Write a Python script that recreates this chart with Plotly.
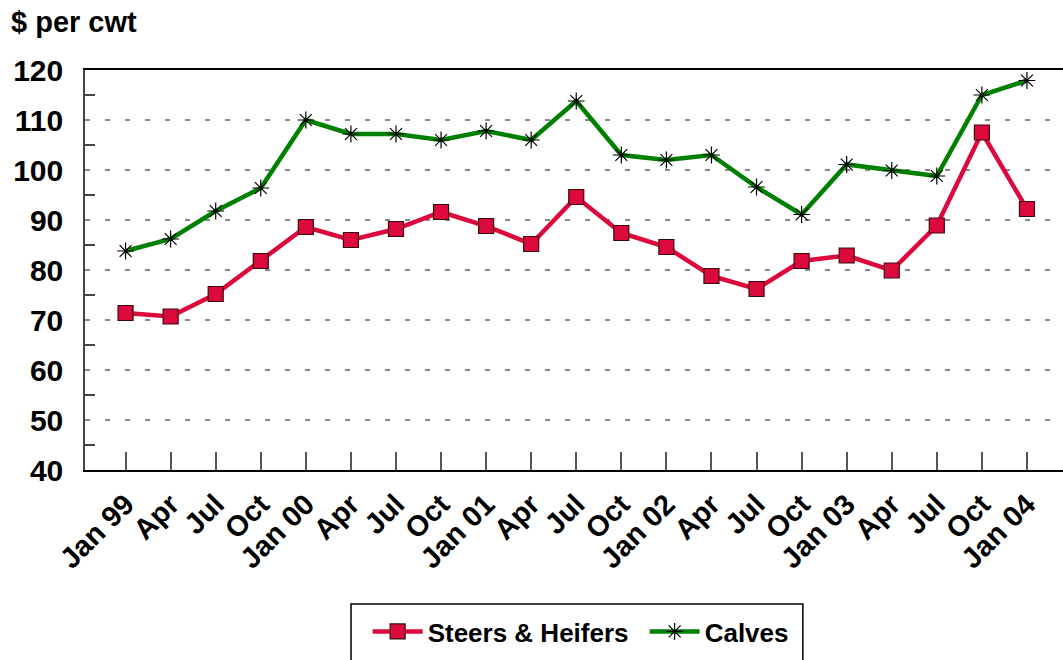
import plotly.graph_objects as go

# Quarterly cattle prices, $ per cwt
quarters = ["Jan 99", "Apr", "Jul", "Oct", "Jan 00", "Apr", "Jul", "Oct",
            "Jan 01", "Apr", "Jul", "Oct", "Jan 02", "Apr", "Jul", "Oct",
            "Jan 03", "Apr", "Jul", "Oct", "Jan 04"]
steers_heifers = [71.4, 70.7, 75.2, 81.8, 88.6, 86.0, 88.2, 91.6,
                  88.8, 85.2, 94.6, 87.4, 84.6, 78.8, 76.2, 81.8,
                  82.9, 79.9, 88.9, 107.5, 92.2]
calves = [83.8, 86.2, 91.8, 96.4, 110.0, 107.2, 107.2, 106.0,
          107.8, 106.0, 113.8, 103.0, 102.0, 103.0, 96.6, 91.1,
          101.1, 99.9, 98.8, 115.0, 117.9]

FONT = "Liberation Sans, Arial, sans-serif"
idx = list(range(len(quarters)))

fig = go.Figure()
fig.add_trace(go.Scatter(
    x=idx, y=steers_heifers, name="Steers & Heifers", mode="lines+markers",
    line=dict(color="#DC0A3C", width=4.5),
    marker=dict(symbol="square", size=15, color="#DC0A3C",
                line=dict(color="#3a0a10", width=1.2)),
))
fig.add_trace(go.Scatter(
    x=idx, y=calves, name="Calves", mode="lines+markers",
    line=dict(color="#008000", width=4.5),
    marker=dict(symbol="asterisk-open", size=14, color="black",
                line=dict(color="black", width=1.2)),
))

fig.update_layout(
    width=1063, height=660,
    margin=dict(l=85, r=0, t=70, b=190),
    plot_bgcolor="white", paper_bgcolor="white",
    font=dict(family=FONT, color="black", size=24, weight="bold"),
    showlegend=True,
    legend=dict(orientation="h", x=0.289, xanchor="left", y=-0.345, yanchor="top",
                borderwidth=0, bgcolor="rgba(0,0,0,0)",
                font=dict(family=FONT, size=26, weight="bold"),
                itemwidth=50, tracegroupgap=0,
                entrywidth=212, entrywidthmode="pixels"),
    # legend frame
    shapes=[dict(type="rect", xref="paper", yref="paper",
                 x0=0.272, x1=0.734, y0=-0.335, y1=-0.50,
                 line=dict(color="black", width=1.5), fillcolor="rgba(0,0,0,0)",
                 layer="below")],
    annotations=[dict(text="$ per cwt", xref="paper", yref="paper", x=-0.078, y=1.075,
                      xanchor="left", yanchor="bottom", showarrow=False,
                      font=dict(family=FONT, size=29, weight="bold"))],
)

fig.update_xaxes(
    range=[-0.9, 20.8],
    tickmode="array", tickvals=idx, ticktext=quarters,
    tickangle=-45, ticks="inside", ticklen=18, tickcolor="#555", tickwidth=1.5,
    tickfont=dict(family=FONT, size=29, weight="bold"), ticklabelstandoff=4,
    showline=True, linecolor="black", linewidth=1.5, mirror=True,
    showgrid=False, zeroline=False,
)
fig.update_yaxes(
    range=[40, 120], tickmode="linear", tick0=40, dtick=10,
    ticks="", tickfont=dict(family=FONT, size=30, weight="bold"),
    ticklabelstandoff=14,
    showline=True, linecolor="#444", linewidth=1.5,
    showgrid=True, gridcolor="#888", gridwidth=1.5, griddash="5px,15px",
    zeroline=False,
    minor=dict(tick0=45, dtick=10, ticks="inside", ticklen=10,
               tickcolor="#444", tickwidth=1.5, showgrid=False),
)

fig.write_html("out.html")
